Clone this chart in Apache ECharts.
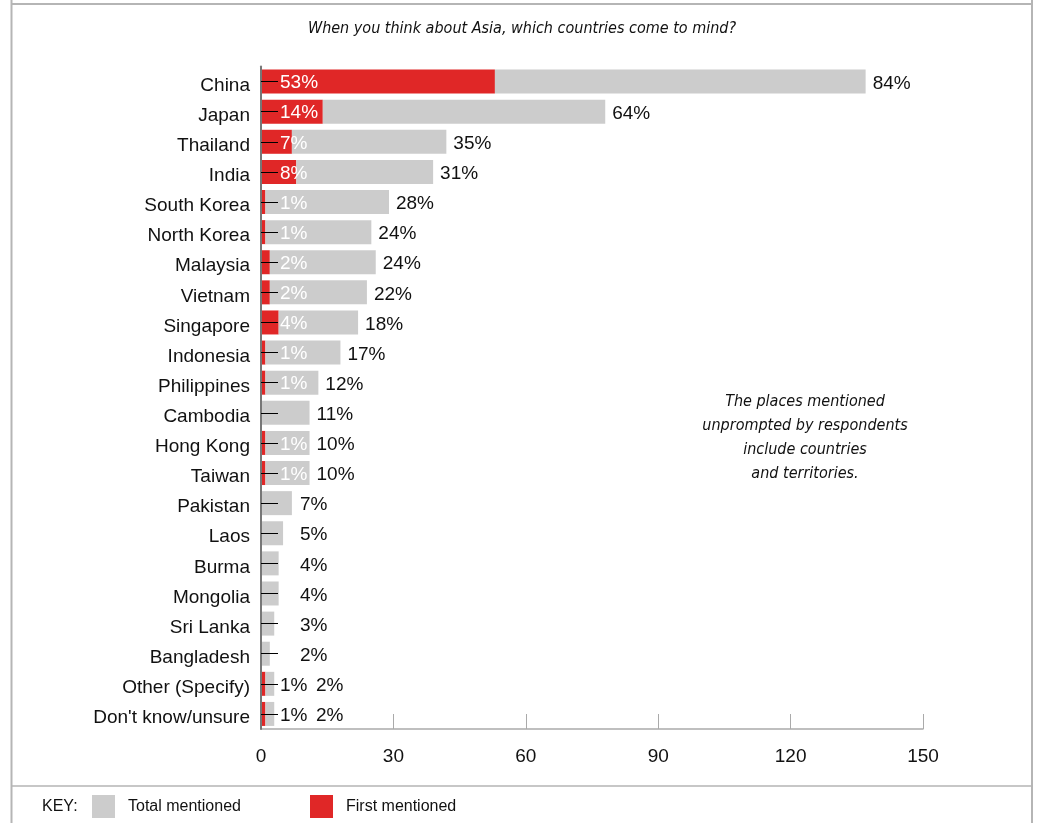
<!DOCTYPE html>
<html>
<head>
<meta charset="utf-8">
<script src="https://cdn.jsdelivr.net/npm/echarts@6/dist/echarts.min.js"></script>
<style>
  html, body { margin: 0; padding: 0; background: #fff; }
  #chart { width: 1038px; height: 823px; }
</style>
</head>
<body>
<div id="chart"></div>
<script>
const categories = ['China', 'Japan', 'Thailand', 'India', 'South Korea', 'North Korea', 'Malaysia', 'Vietnam', 'Singapore', 'Indonesia', 'Philippines', 'Cambodia', 'Hong Kong', 'Taiwan', 'Pakistan', 'Laos', 'Burma', 'Mongolia', 'Sri Lanka', 'Bangladesh', 'Other (Specify)', "Don't know/unsure"];
const firstMentioned = [53, 14, 7, 8, 1, 1, 2, 2, 4, 1, 1, 0, 1, 1, 0, 0, 0, 0, 0, 0, 1, 1];
const totalMentioned = [84, 64, 35, 31, 28, 24, 24, 22, 18, 17, 12, 11, 10, 10, 7, 5, 4, 4, 3, 2, 2, 2];
const xTicks = [0, 30, 60, 90, 120, 150];
const titleText = 'When you think about Asia, which countries come to mind?';
const noteText = 'The places mentioned\nunprompted by respondents\ninclude countries\nand territories.';

const RED = '#e02727';
const GRAY = '#cccccc';
const FONT = "'Liberation Sans', Arial, sans-serif";
const ITAL = "'DejaVu Sans Condensed', 'DejaVu Sans', sans-serif";

const chart = echarts.init(document.getElementById('chart'), null, { renderer: 'canvas' });

function zeroX() { return chart.convertToPixel({ xAxisIndex: 0 }, 0); }
function isSmall(i) { return firstMentioned[i] + totalMentioned[i] < 6; }

const option = {
  animation: false,
  backgroundColor: '#ffffff',
  grid: { left: 261, right: 115, top: 66.5, bottom: 94, containLabel: false },
  xAxis: {
    type: 'value', min: 0, max: 150, interval: 30,
    axisLine: { show: true, lineStyle: { color: '#aaaaaa', width: 1.5 } },
    axisTick: { show: true, inside: true, length: 15, lineStyle: { color: '#aaaaaa', width: 1 } },
    splitLine: { show: false },
    axisLabel: { fontFamily: FONT, fontSize: 19, color: '#111', margin: 18,
      formatter: v => xTicks.includes(v) ? String(v) : '' }
  },
  yAxis: {
    type: 'category', data: categories, inverse: true, z: 5,
    axisLine: { show: true, lineStyle: { color: '#777777', width: 2 } },
    axisTick: { show: true, inside: true, length: 17, alignWithLabel: true, lineStyle: { color: '#000', width: 1 } },
    axisLabel: { fontFamily: FONT, fontSize: 19, color: '#111', margin: 11, verticalAlign: 'top', lineHeight: 8 }
  },
  legend: [
    { data: ['Total mentioned'], left: 87, top: 790, itemWidth: 23, itemHeight: 23, icon: 'rect',
      textStyle: { fontFamily: FONT, fontSize: 16, color: '#111', padding: [0, 0, 0, 8] }, selectedMode: false },
    { data: ['First mentioned'], left: 305, top: 790, itemWidth: 23, itemHeight: 23, icon: 'rect',
      textStyle: { fontFamily: FONT, fontSize: 16, color: '#111', padding: [0, 0, 0, 8] }, selectedMode: false }
  ],
  series: [
    {
      name: 'First mentioned', type: 'bar', stack: 'a', barWidth: 24,
      data: firstMentioned,
      itemStyle: { color: RED },
      label: {
        show: true, position: 'insideLeft', fontFamily: FONT, fontSize: 19,
        formatter: p => p.value > 0 ? p.value + '%' : '',
        color: '#fff'
      },
      labelLayout: p => ({ x: zeroX() + 19, y: p.rect.y + p.rect.height / 2 + 1.5, align: 'left', verticalAlign: 'middle' })
    },
    {
      name: 'Total mentioned', type: 'bar', stack: 'a', barWidth: 24,
      data: totalMentioned,
      itemStyle: { color: GRAY },
      label: {
        show: true, position: 'right', distance: 6, fontFamily: FONT, fontSize: 19, color: '#111',
        formatter: p => p.value + '%'
      },
      labelLayout: p => {
        const z = zeroX();
        const end = p.rect.x + p.rect.width + 7;
        const minX = isSmall(p.dataIndex) && firstMentioned[p.dataIndex] > 0 ? z + 55 : z + 39;
        return { x: Math.max(end, minX), y: p.rect.y + p.rect.height / 2 + 2, align: 'left', verticalAlign: 'middle' };
      }
    }
  ],
  graphic: [
    { type: 'line', shape: { x1: 11.5, y1: 0, x2: 11.5, y2: 823 }, style: { stroke: '#b5b5b5', lineWidth: 2 } },
    { type: 'line', shape: { x1: 1032, y1: 0, x2: 1032, y2: 823 }, style: { stroke: '#b5b5b5', lineWidth: 2 } },
    { type: 'line', shape: { x1: 11, y1: 4, x2: 1033, y2: 4 }, style: { stroke: '#b5b5b5', lineWidth: 2 } },
    { type: 'line', shape: { x1: 11, y1: 786, x2: 1033, y2: 786 }, style: { stroke: '#b5b5b5', lineWidth: 1.5 } },
    { type: 'text', x: 42, y: 807, style: { text: 'KEY:', font: '16px ' + FONT, fill: '#111', textVerticalAlign: 'middle' } },
    { type: 'text', x: 522, y: 29, style: { text: titleText, font: 'italic 16px ' + ITAL, fill: '#111', textAlign: 'center', textVerticalAlign: 'middle' } },
    { type: 'text', x: 805, y: 390, style: { text: noteText, font: 'italic 16px ' + ITAL, fill: '#111', textAlign: 'center', textVerticalAlign: 'top', lineHeight: 24 } }
  ]
};

// red labels that sit outside the bars are shown in black
option.series[0].data = firstMentioned.map((v, i) => isSmall(i) ? { value: v, label: { color: '#111' } } : v);

chart.setOption(option);
</script>
</body>
</html>
